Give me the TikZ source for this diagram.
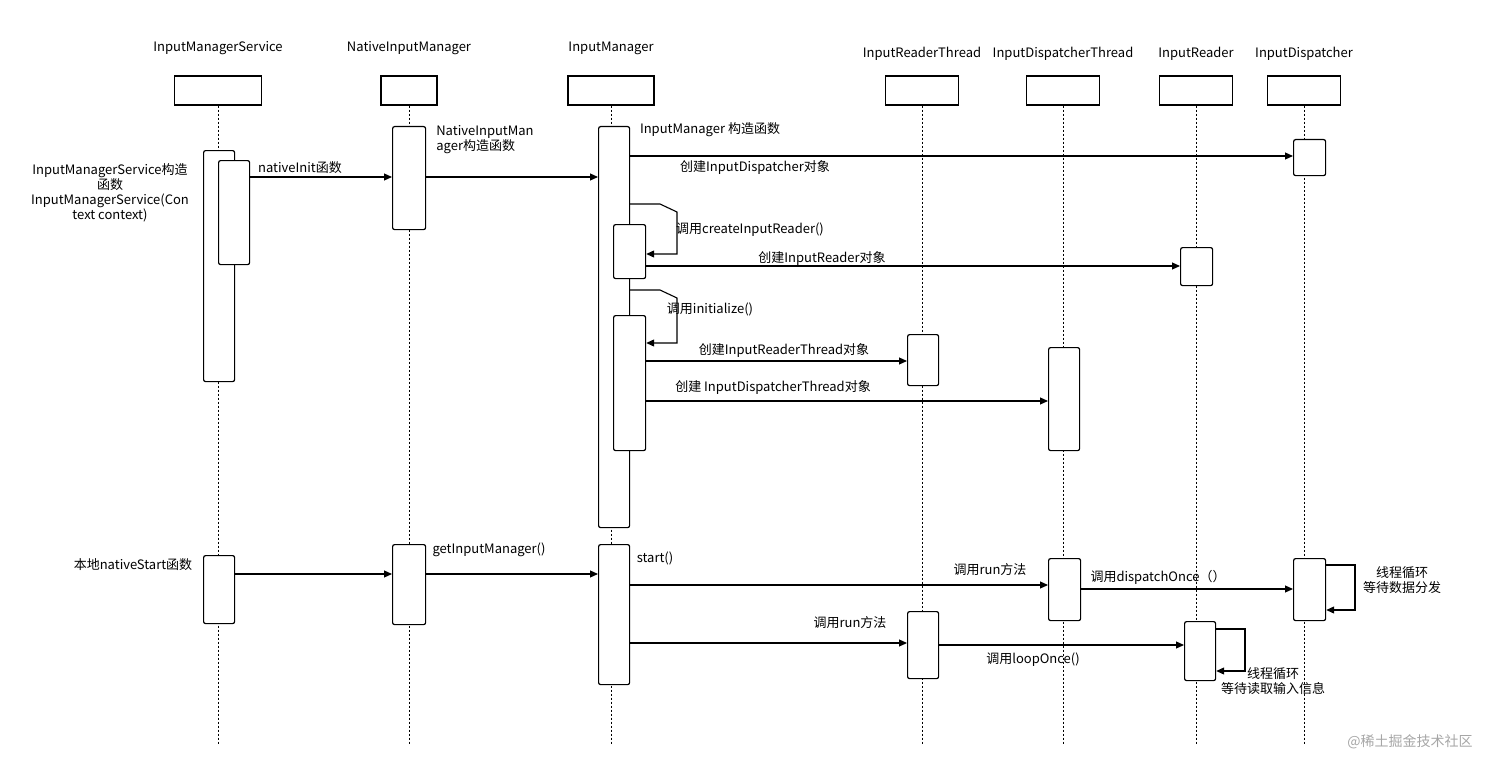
\documentclass[tikz,border=0pt]{standalone}
\usepackage{fontspec}
\setmainfont{Noto Sans CJK SC}
\usetikzlibrary{arrows.meta}
\begin{document}
\begin{tikzpicture}[x=1pt,y=-1pt,
  hdr/.style={draw,line width=1.3pt},
  act/.style={draw,fill=white,rounded corners=2pt,line width=1.2pt},
  life/.style={dash pattern=on 2pt off 2pt,line width=0.9pt},
  msg/.style={-{Triangle[length=8pt,width=7pt]},line width=1.1pt},
  lbl/.style={font=\fontsize{13}{15}\selectfont,inner sep=0pt,align=center}]
\useasboundingbox (0,0) rectangle (1512,773);
% headers and lifelines
\foreach \n/\x/\w/\t/\ly in {ims/218/87/InputManagerService/48,nim/409/56/NativeInputManager/48,im/611/86/InputManager/48,irt/922/73/InputReaderThread/54,idt/1063/73/InputDispatcherThread/54,ir/1196/73/InputReader/54,id/1304/73/InputDispatcher/54}{
  \node[lbl] (t\n) at (\x,\ly) {\t};
  \node[hdr,minimum width=\w pt,minimum height=29pt,inner sep=0pt] (h\n) at (\x,90.5) {};
  \coordinate (e\n) at (\x,745);
  \draw[life] (h\n.south) -- (e\n);
}
% activations
\newcommand\actb[5]{\node[act,minimum width=#4 pt,minimum height=#5 pt,inner sep=0pt,anchor=north west] (#1) at (#2,#3) {};}
\actb{a1}{203}{150}{31}{231}
\actb{a2}{218}{160}{31}{104}
\actb{a3}{392}{126}{33}{103}
\actb{a4}{598}{126}{31}{401}
\actb{a5}{613}{224}{32}{54}
\actb{a6}{613}{315}{32}{135}
\actb{a7}{1293}{139}{32}{36}
\actb{a8}{1180}{247}{32}{38}
\actb{a9}{907}{334}{31}{51}
\actb{a10}{1048}{347}{31}{103}
\actb{b1}{203}{555}{31}{68}
\actb{b2}{392}{544}{33}{80}
\actb{b3}{598}{544}{31}{140}
\actb{b4}{1048}{558}{32}{62}
\actb{b5}{907}{611}{31}{67}
\actb{b6}{1184}{621}{31}{59}
\actb{b7}{1293}{558}{32}{62}
% messages upper
\draw[msg] (a2.east|-0,177) -- (a3.west|-0,177);
\node[lbl] (l1) at (300,168) {nativeInit函数};
\draw[msg] (a3.east|-0,177) -- (a4.west|-0,177);
\node[lbl,align=left] (l2) at (485,140) {NativeInputMan\\ager构造函数};
\node[lbl] (l3) at (710,130) {InputManager 构造函数};
\draw[msg] (a4.east|-0,156) -- (a7.west|-0,156);
\node[lbl] (l4) at (755,168) {创建InputDispatcher对象};
\coordinate (s1a) at (660,204); \coordinate (s1b) at (677,254);
\draw[msg] (a4.east|-0,204) -- (s1a) -- (677,212) -- (s1b) -- (a5.east|-0,254);
\node[lbl] (l5) at (750,230) {调用createInputReader()};
\draw[msg] (a5.east|-0,266) -- (a8.west|-0,266);
\node[lbl] (l6) at (822,259) {创建InputReader对象};
\coordinate (s2a) at (660,290); \coordinate (s2b) at (677,343);
\draw[msg] (a4.east|-0,290) -- (s2a) -- (677,298) -- (s2b) -- (a6.east|-0,343);
\node[lbl] (l7) at (710,309) {调用initialize()};
\draw[msg] (a6.east|-0,361) -- (a9.west|-0,361);
\node[lbl] (l8) at (784,350) {创建InputReaderThread对象};
\draw[msg] (a6.east|-0,401) -- (a10.west|-0,401);
\node[lbl] (l9) at (773,387) {创建 InputDispatcherThread对象};
\node[lbl] (l10) at (110,193) {InputManagerService构造\\函数\\InputManagerService(Con\\text context)};
% lower
\draw[msg] (b1.east|-0,574) -- (b2.west|-0,574);
\node[lbl] (l11) at (133,565) {本地nativeStart函数};
\draw[msg] (b2.east|-0,574) -- (b3.west|-0,574);
\node[lbl] (l12) at (489,550) {getInputManager()};
\draw[msg] (b3.east|-0,585) -- (b4.west|-0,585);
\node[lbl] (l13) at (655,558) {start()};
\node[lbl] (l14) at (990,570) {调用run方法};
\draw[msg] (b4.east|-0,589) -- (b7.west|-0,589);
\node[lbl] (l15) at (1158,577) {调用dispatchOnce（）};
\coordinate (s3a) at (1355,565); \coordinate (s3b) at (1355,610);
\draw[msg] (b7.east|-0,565) -- (s3a) -- (s3b) -- (b7.east|-0,610);
\node[lbl] (l16) at (1402,580) {线程循环\\等待数据分发};
\draw[msg] (b3.east|-0,643) -- (b5.west|-0,643);
\node[lbl] (l17) at (850,623) {调用run方法};
\draw[msg] (b5.east|-0,645) -- (b6.west|-0,645);
\node[lbl] (l18) at (1033,660) {调用loopOnce()};
\coordinate (s4a) at (1245,629); \coordinate (s4b) at (1245,671);
\draw[msg] (b6.east|-0,629) -- (s4a) -- (s4b) -- (b6.east|-0,671);
\node[lbl] (l19) at (1273,681) {线程循环\\等待读取输入信息};
\node[lbl,text=gray!70,font=\fontsize{14}{16}\selectfont] (wm) at (1410,742) {@稀土掘金技术社区};
\end{tikzpicture}
\end{document}
